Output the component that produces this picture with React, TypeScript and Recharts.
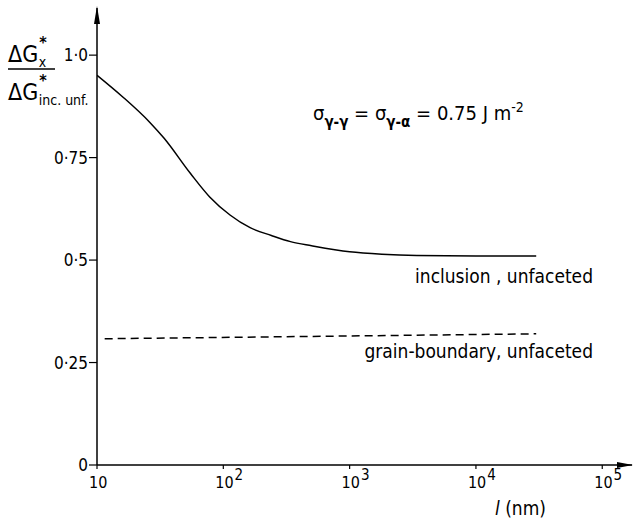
import { LineChart, Line, XAxis, YAxis } from "recharts";

// l (nm) and normalised barrier
const inclusionL = [10, 16, 26, 34, 55, 78, 113, 163, 240, 340, 500, 1000, 1800, 3400, 10000, 30000];
const inclusionG = [0.951, 0.898, 0.837, 0.797, 0.711, 0.654, 0.61, 0.579, 0.56, 0.545, 0.535, 0.52, 0.514, 0.511, 0.51, 0.51];

const boundaryL = [11.5, 30000];
const boundaryG = [0.308, 0.32];

const xTicks = [10, 100, 1000, 10000, 100000];
const yTicks = [0, 0.25, 0.5, 0.75, 1.0];
const yTickLabels = ["0", "0·25", "0·5", "0·75", "1·0"];

const inclusion = inclusionL.map((l, i) => ({ l, g: inclusionG[i] }));
const boundary = boundaryL.map((l, i) => ({ l, g: boundaryG[i] }));

const FONT = "'Liberation Sans Narrow', 'DejaVu Sans Condensed', 'Liberation Sans', sans-serif";
const W = 633;
const H = 519;

function XTick({ x, y, payload }: any) {
  const exp = Math.round(Math.log10(payload.value));
  return (
    <text x={x - 8} y={y + 17} fontSize={16} fontFamily={FONT} fill="#000">
      10
      {exp > 1 && (
        <tspan fontSize={15} dx={1} dy={-8}>
          {exp}
        </tspan>
      )}
    </text>
  );
}

function YTick({ x, y, payload }: any) {
  const i = yTicks.indexOf(payload.value);
  return (
    <text x={x} y={y} dy={6} textAnchor="end" fontSize={17} fontFamily={FONT} fill="#000">
      {yTickLabels[i]}
    </text>
  );
}

export default function App() {
  return (
    <div style={{ position: "relative", width: W, height: H, background: "#fff" }}>
      <style>{`body{margin:0}`}</style>
      <LineChart width={W} height={H} data={inclusion} margin={{ top: 8, right: 1, bottom: 14, left: 0 }}>
        <XAxis
          dataKey="l"
          type="number"
          scale="log"
          domain={[10, 172000]}
          ticks={xTicks}
          allowDataOverflow
          height={40}
          tickSize={4}
          tickMargin={2}
          axisLine={{ stroke: "#000", strokeWidth: 1.5 }}
          tickLine={{ stroke: "#000", strokeWidth: 1.2 }}
          tick={<XTick />}
        />
        <YAxis
          dataKey="g"
          type="number"
          domain={[0, 1.115]}
          ticks={yTicks}
          allowDataOverflow
          width={97}
          tickSize={8}
          tickMargin={1}
          axisLine={{ stroke: "#000", strokeWidth: 1.5 }}
          tickLine={{ stroke: "#000", strokeWidth: 1.2 }}
          tick={<YTick />}
        />
        <Line
          data={inclusion}
          dataKey="g"
          type="monotone"
          stroke="#000"
          strokeWidth={1.5}
          dot={false}
          isAnimationActive={false}
        />
        <Line
          data={boundary}
          dataKey="g"
          type="linear"
          stroke="#000"
          strokeWidth={1.5}
          strokeDasharray="8 5"
          dot={false}
          isAnimationActive={false}
        />
      </LineChart>

      <svg
        width={W}
        height={H}
        style={{ position: "absolute", left: 0, top: 0, pointerEvents: "none" }}
        fontFamily={FONT}
        fill="#000"
      >
        {/* axis arrowheads */}
        <polygon points="97,6 94,24 100,24" fill="#000" />
        <polygon points="633,465 617,462 617,468" fill="#000" />

        {/* y axis label: ΔG*x / ΔG*inc.unf. */}
        <text x={8} y={62} fontSize={23}>
          ΔG
          <tspan fontSize={16} fontWeight="bold" dx={1} dy={-14}>*</tspan>
          <tspan fontSize={14} dx={-8} dy={19}>x</tspan>
        </text>
        <line x1={8} y1={69} x2={55} y2={69} stroke="#000" strokeWidth={1.5} />
        <text x={8} y={100} fontSize={23}>
          ΔG
          <tspan fontSize={16} fontWeight="bold" dx={1} dy={-14}>*</tspan>
          <tspan fontSize={14} dx={-8} dy={19}>inc. unf.</tspan>
        </text>

        {/* sigma annotation */}
        <text x={313} y={120} fontSize={20}>
          σ<tspan fontSize={15} dy={7} fontWeight="bold">γ-γ</tspan>
          <tspan dy={-7}> = σ</tspan>
          <tspan fontSize={15} dy={7} fontWeight="bold">γ-α</tspan>
          <tspan dy={-7}> = 0.75 J m</tspan>
          <tspan fontSize={14} dy={-8}>-2</tspan>
        </text>

        {/* curve labels */}
        <text x={593} y={283} textAnchor="end" fontSize={19}>inclusion , unfaceted</text>
        <text x={593} y={358} textAnchor="end" fontSize={19}>grain-boundary, unfaceted</text>

        {/* x axis label */}
        <text x={495} y={515} fontSize={19}>
          <tspan fontStyle="italic">l</tspan> (nm)
        </text>
      </svg>
    </div>
  );
}
